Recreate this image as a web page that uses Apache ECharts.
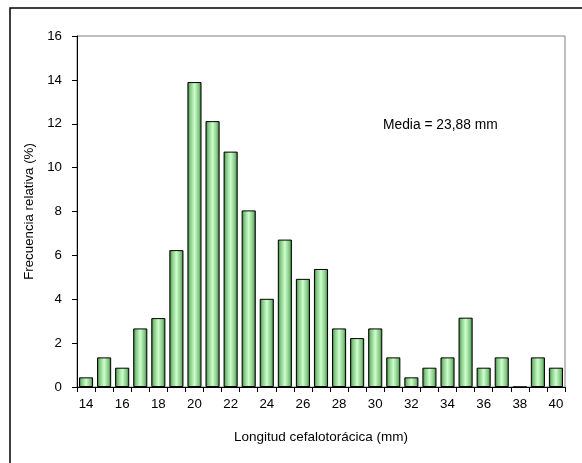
<!DOCTYPE html>
<html>
<head>
<meta charset="utf-8">
<script src="https://cdn.jsdelivr.net/npm/echarts@6/dist/echarts.min.js"></script>
<style>
html,body{margin:0;padding:0;background:#fff;}
#chart{width:582px;height:463px;}
</style>
</head>
<body>
<div id="chart"></div>
<script>
var categories = ['14','15','16','17','18','19','20','21','22','23','24','25','26','27','28','29','30','31','32','33','34','35','36','37','38','39','40'];
var frecuencia = [0.44,1.35,0.88,2.67,3.14,6.24,13.9,12.12,10.73,8.05,4.02,6.72,4.93,5.38,2.67,2.23,2.67,1.35,0.44,0.88,1.35,3.16,0.88,1.35,0,1.35,0.88];
var yTicks = {min:0, max:16, interval:2};
var mediaText = 'Media = 23,88 mm';
var xName = 'Longitud cefalotorácica (mm)';
var yName = 'Frecuencia relativa (%)';

var font = '"Liberation Sans", Arial, sans-serif';
var chart = echarts.init(document.getElementById('chart'), null, {renderer:'canvas'});
var barGrad = new echarts.graphic.LinearGradient(0,0,1,0,[
  {offset:0, color:'#2f6e2f'},
  {offset:0.18, color:'#80c480'},
  {offset:0.5, color:'#ccffcc'},
  {offset:0.82, color:'#80c480'},
  {offset:1, color:'#2f6e2f'}
]);
chart.setOption({
  animation:false,
  backgroundColor:'#fff',
  grid:{left:77, top:36, right:17, bottom:76, show:true, borderColor:'#808080', borderWidth:1, backgroundColor:'#fff'},
  graphic:[
    {type:'rect', shape:{x:10, y:8, width:620, height:520}, style:{fill:'none', stroke:'#000', lineWidth:1.5}, z:100},
    {type:'text', left:383, top:118, style:{text:mediaText, font:'13.8px ' + font, fill:'#000'}, z:100}
  ],
  xAxis:{
    type:'category', data:categories, boundaryGap:true,
    name:xName, nameLocation:'middle', nameGap:43,
    nameTextStyle:{fontFamily:font, fontSize:13.5, color:'#000'},
    axisLine:{show:true, lineStyle:{color:'#000', width:1}},
    axisTick:{show:true, inside:false, length:5, alignWithLabel:false, interval:0, lineStyle:{color:'#000'}},
    axisLabel:{interval:1, margin:11, fontFamily:font, fontSize:13.3, color:'#000'},
    splitLine:{show:false}
  },
  yAxis:{
    type:'value', min:yTicks.min, max:yTicks.max, interval:yTicks.interval,
    name:yName, nameLocation:'middle', nameGap:37,
    nameTextStyle:{fontFamily:font, fontSize:13.3, color:'#000'},
    axisLine:{show:true, lineStyle:{color:'#000', width:1}},
    axisTick:{show:true, inside:false, length:5, lineStyle:{color:'#000'}},
    axisLabel:{margin:15, fontFamily:font, fontSize:13.3, color:'#000'},
    splitLine:{show:false}
  },
  series:[{
    type:'bar', data:frecuencia, barCategoryGap:'22%',
    itemStyle:{color:barGrad, borderColor:'#000', borderWidth:1}
  }]
});
</script>
</body>
</html>
